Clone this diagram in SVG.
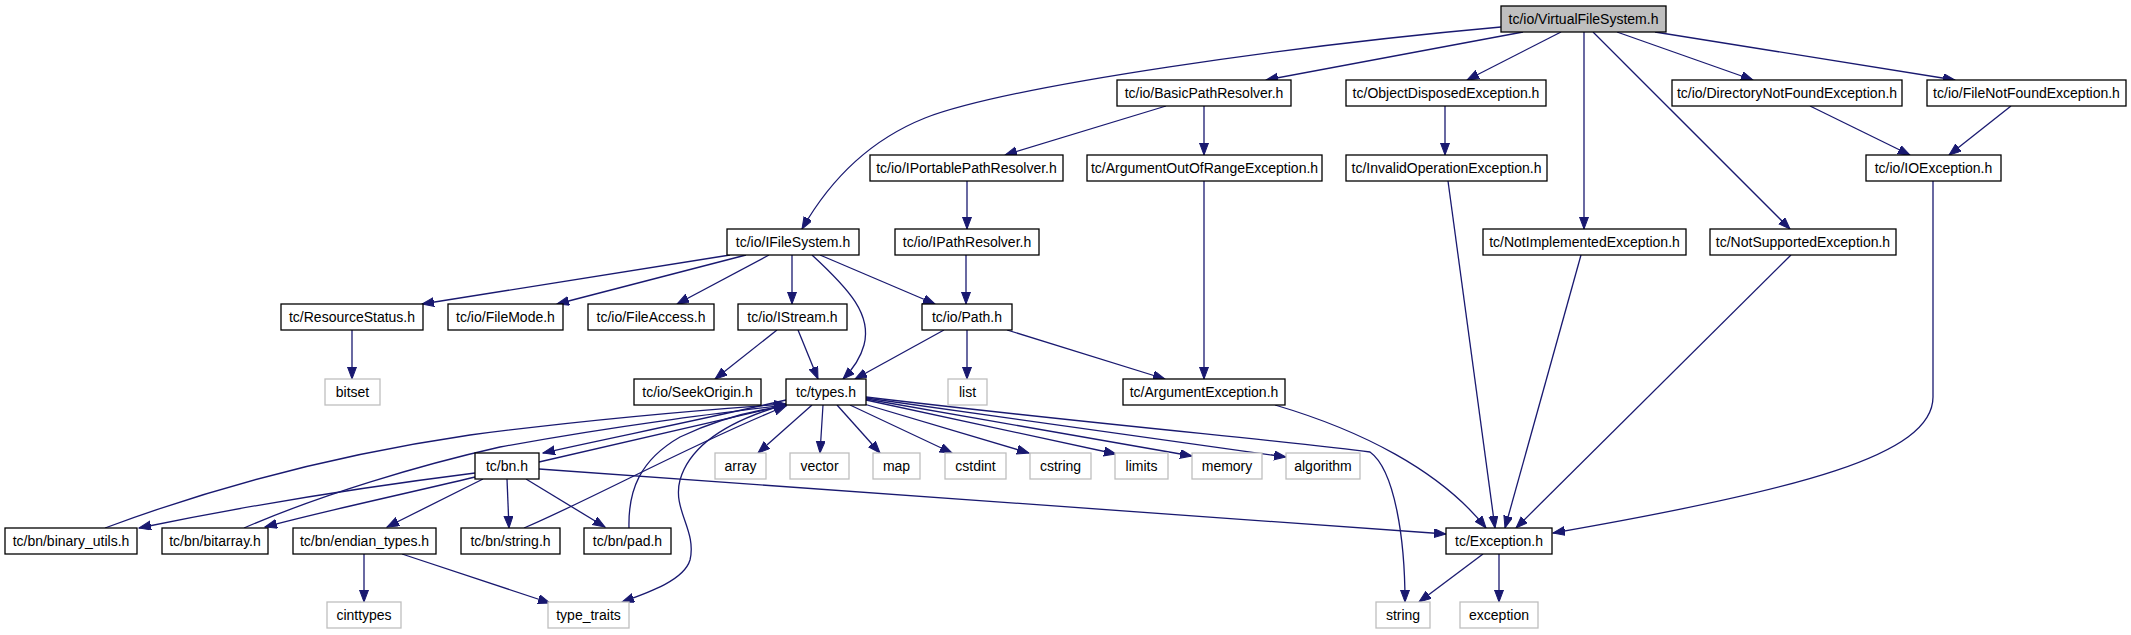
<svg xmlns="http://www.w3.org/2000/svg" width="2131" height="635" viewBox="0 0 2131 635">
<style>
.n rect{fill:#fff;stroke:#000;stroke-width:1.3}
.g rect{fill:#fff;stroke:#bfbfbf;stroke-width:1.3}
.root rect{fill:#bfbfbf;stroke:#000;stroke-width:1.3}
text{font-family:"Liberation Sans",Helvetica,Arial,sans-serif;font-size:14px;fill:#000;text-anchor:middle}
.e path{fill:none;stroke:#191970;stroke-width:1.3;marker-end:url(#a)}
</style>
<defs>
<marker id="a" markerUnits="userSpaceOnUse" markerWidth="13" markerHeight="10" refX="12" refY="4.5" orient="auto">
<path d="M0,0 L12,4.5 L0,9 z" fill="#191970" stroke="#191970" stroke-width="1"/>
</marker>
</defs>
<g id="edges" class="e">
<path d="M1501,27 C1300,45 1010,85 925,118 C870,140 830,180 802,229"/>
<path d="M1523,32 L1266,80"/>
<path d="M1561,32 L1467,80"/>
<path d="M1584,32 L1584,229"/>
<path d="M1593,32 L1790,229"/>
<path d="M1617,32 L1753,80"/>
<path d="M1655,32 L1955,80"/>
<path d="M1166,106 L1005,155"/>
<path d="M1204,106 L1204,155"/>
<path d="M1445,106 L1445,155"/>
<path d="M1810,106 L1910,155"/>
<path d="M2011,106 L1949,155"/>
<path d="M967,181 L967,229"/>
<path d="M1204,181 L1204,379"/>
<path d="M1448,181 L1495,528"/>
<path d="M1581,255 L1505,528"/>
<path d="M1791,255 L1516,528"/>
<path d="M1933,181 L1933,397 C1933,455 1800,490 1553,533"/>
<path d="M1275,405 C1360,430 1440,470 1486,528"/>
<path d="M730,255 L422,304"/>
<path d="M746,255 L557,304"/>
<path d="M769,255 L677,304"/>
<path d="M792,255 L792,304"/>
<path d="M812,255 C850,290 872,315 864,345 C860,360 850,372 843,379"/>
<path d="M820,255 L935,304"/>
<path d="M966,255 L966,304"/>
<path d="M352,330 L352,379"/>
<path d="M777,330 L715,379"/>
<path d="M798,330 L818,379"/>
<path d="M944,330 L855,379"/>
<path d="M967,330 L967,379"/>
<path d="M1007,330 L1165,379"/>
<path d="M812,405 L758,453"/>
<path d="M823,405 L820,453"/>
<path d="M837,405 L880,453"/>
<path d="M850,405 L952,453"/>
<path d="M864,404 L1029,453"/>
<path d="M866,400 L1116,454"/>
<path d="M866,399 L1192,456"/>
<path d="M866,398 L1286,457"/>
<path d="M866,397 C1100,425 1300,442 1370,452 C1395,470 1405,540 1405,602"/>
<path d="M786,400 C700,420 600,440 543,453"/>
<path d="M539,462 C600,448 700,425 786,405"/>
<path d="M787,404 C730,420 690,445 680,480 C672,510 697,530 690,560 C684,580 650,592 622,602"/>
<path d="M105,528 C180,500 300,460 470,435 C600,418 700,410 786,404"/>
<path d="M244,528 C320,495 420,465 500,447 C620,425 720,413 786,405"/>
<path d="M475,473 C380,485 250,505 139,528"/>
<path d="M475,477 C400,495 320,512 265,527"/>
<path d="M483,479 L387,527"/>
<path d="M507,479 L509,528"/>
<path d="M526,479 L605,527"/>
<path d="M539,469 L1446,534"/>
<path d="M524,528 C590,500 700,440 786,406"/>
<path d="M629,528 C628,490 640,460 680,437 C720,418 755,410 786,406"/>
<path d="M364,554 L364,602"/>
<path d="M402,554 L550,603"/>
<path d="M1483,554 L1419,602"/>
<path d="M1499,554 L1499,602"/>
</g>
<g id="n_vfs" class="root"><rect x="1501" y="6" width="165" height="26"/><text x="1583.5" y="24">tc/io/VirtualFileSystem.h</text></g>
<g id="n_bpr" class="n"><rect x="1117" y="80" width="174" height="26"/><text x="1204" y="98">tc/io/BasicPathResolver.h</text></g>
<g id="n_ode" class="n"><rect x="1346" y="80" width="200" height="26"/><text x="1446" y="98">tc/ObjectDisposedException.h</text></g>
<g id="n_dnf" class="n"><rect x="1672" y="80" width="230" height="26"/><text x="1787" y="98">tc/io/DirectoryNotFoundException.h</text></g>
<g id="n_fnf" class="n"><rect x="1927" y="80" width="199" height="26"/><text x="2026.5" y="98">tc/io/FileNotFoundException.h</text></g>
<g id="n_ippr" class="n"><rect x="870" y="155" width="193" height="26"/><text x="966.5" y="173">tc/io/IPortablePathResolver.h</text></g>
<g id="n_aoor" class="n"><rect x="1087" y="155" width="235" height="26"/><text x="1204.5" y="173">tc/ArgumentOutOfRangeException.h</text></g>
<g id="n_ioe" class="n"><rect x="1346" y="155" width="201" height="26"/><text x="1446.5" y="173">tc/InvalidOperationException.h</text></g>
<g id="n_ioex" class="n"><rect x="1866" y="155" width="135" height="26"/><text x="1933.5" y="173">tc/io/IOException.h</text></g>
<g id="n_ifs" class="n"><rect x="727" y="229" width="132" height="26"/><text x="793" y="247">tc/io/IFileSystem.h</text></g>
<g id="n_ipr" class="n"><rect x="895" y="229" width="144" height="26"/><text x="967" y="247">tc/io/IPathResolver.h</text></g>
<g id="n_nie" class="n"><rect x="1483" y="229" width="203" height="26"/><text x="1584.5" y="247">tc/NotImplementedException.h</text></g>
<g id="n_nse" class="n"><rect x="1710" y="229" width="186" height="26"/><text x="1803" y="247">tc/NotSupportedException.h</text></g>
<g id="n_rs" class="n"><rect x="281" y="304" width="142" height="26"/><text x="352" y="322">tc/ResourceStatus.h</text></g>
<g id="n_fm" class="n"><rect x="448" y="304" width="115" height="26"/><text x="505.5" y="322">tc/io/FileMode.h</text></g>
<g id="n_fa" class="n"><rect x="588" y="304" width="126" height="26"/><text x="651" y="322">tc/io/FileAccess.h</text></g>
<g id="n_is" class="n"><rect x="738" y="304" width="109" height="26"/><text x="792.5" y="322">tc/io/IStream.h</text></g>
<g id="n_path" class="n"><rect x="922" y="304" width="90" height="26"/><text x="967" y="322">tc/io/Path.h</text></g>
<g id="n_bitset" class="g"><rect x="325" y="379" width="55" height="26"/><text x="352.5" y="397">bitset</text></g>
<g id="n_so" class="n"><rect x="634" y="379" width="127" height="26"/><text x="697.5" y="397">tc/io/SeekOrigin.h</text></g>
<g id="n_types" class="n"><rect x="786" y="379" width="80" height="26"/><text x="826" y="397">tc/types.h</text></g>
<g id="n_list" class="g"><rect x="948" y="379" width="39" height="26"/><text x="967.5" y="397">list</text></g>
<g id="n_ae" class="n"><rect x="1123" y="379" width="162" height="26"/><text x="1204" y="397">tc/ArgumentException.h</text></g>
<g id="n_bn" class="n"><rect x="475" y="453" width="64" height="26"/><text x="507" y="471">tc/bn.h</text></g>
<g id="n_array" class="g"><rect x="715" y="453" width="51" height="26"/><text x="740.5" y="471">array</text></g>
<g id="n_vector" class="g"><rect x="790" y="453" width="59" height="26"/><text x="819.5" y="471">vector</text></g>
<g id="n_map" class="g"><rect x="873" y="453" width="47" height="26"/><text x="896.5" y="471">map</text></g>
<g id="n_cstdint" class="g"><rect x="945" y="453" width="61" height="26"/><text x="975.5" y="471">cstdint</text></g>
<g id="n_cstring" class="g"><rect x="1030" y="453" width="61" height="26"/><text x="1060.5" y="471">cstring</text></g>
<g id="n_limits" class="g"><rect x="1115" y="453" width="53" height="26"/><text x="1141.5" y="471">limits</text></g>
<g id="n_memory" class="g"><rect x="1192" y="453" width="70" height="26"/><text x="1227" y="471">memory</text></g>
<g id="n_algorithm" class="g"><rect x="1286" y="453" width="74" height="26"/><text x="1323" y="471">algorithm</text></g>
<g id="n_bu" class="n"><rect x="5" y="528" width="132" height="26"/><text x="71" y="546">tc/bn/binary_utils.h</text></g>
<g id="n_ba" class="n"><rect x="162" y="528" width="106" height="26"/><text x="215" y="546">tc/bn/bitarray.h</text></g>
<g id="n_et" class="n"><rect x="293" y="528" width="143" height="26"/><text x="364.5" y="546">tc/bn/endian_types.h</text></g>
<g id="n_bs" class="n"><rect x="461" y="528" width="99" height="26"/><text x="510.5" y="546">tc/bn/string.h</text></g>
<g id="n_pad" class="n"><rect x="584" y="528" width="87" height="26"/><text x="627.5" y="546">tc/bn/pad.h</text></g>
<g id="n_exc" class="n"><rect x="1446" y="528" width="106" height="26"/><text x="1499" y="546">tc/Exception.h</text></g>
<g id="n_cinttypes" class="g"><rect x="327" y="602" width="74" height="26"/><text x="364" y="620">cinttypes</text></g>
<g id="n_tt" class="g"><rect x="548" y="602" width="81" height="26"/><text x="588.5" y="620">type_traits</text></g>
<g id="n_string" class="g"><rect x="1376" y="602" width="54" height="26"/><text x="1403" y="620">string</text></g>
<g id="n_exception" class="g"><rect x="1460" y="602" width="78" height="26"/><text x="1499" y="620">exception</text></g>
</svg>
